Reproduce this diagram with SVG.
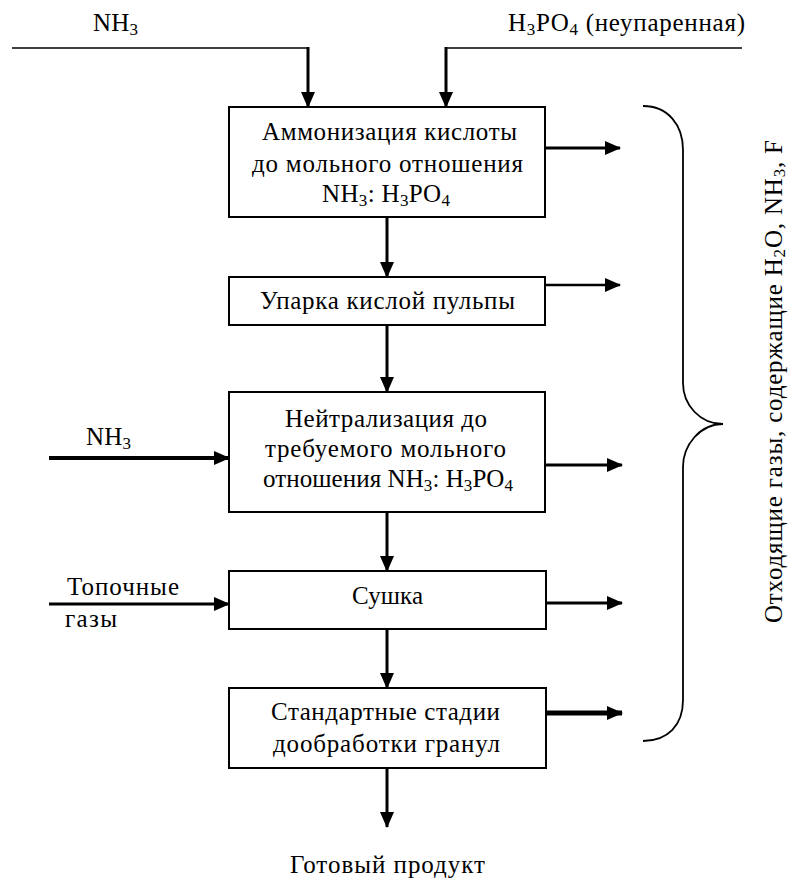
<svg xmlns="http://www.w3.org/2000/svg" width="788" height="880" viewBox="0 0 788 880">
<defs>
<style>
.box{fill:#fff;stroke:#000;stroke-width:2}
.t{font-family:"Liberation Serif","Times New Roman",serif;font-size:25px;fill:#000}
.c{text-anchor:middle}
.ln{fill:none;stroke:#000}
.sub{font-size:17px}
</style>
<marker id="ah" markerUnits="userSpaceOnUse" markerWidth="16" markerHeight="14" viewBox="0 0 16 14" refX="15" refY="7" orient="auto">
<path d="M0,0 L16,7 L0,14 Z" fill="#000"/>
</marker>
</defs>
<rect width="788" height="880" fill="#fff"/>

<g id="connectors">
<path class="ln" d="M12,48 H308" stroke-width="1.5"/>
<path class="ln" d="M308,47 V107" stroke-width="3" marker-end="url(#ah)"/>
<path class="ln" d="M446,48 H742" stroke-width="1.5"/>
<path class="ln" d="M446,47 V107" stroke-width="3" marker-end="url(#ah)"/>
<path class="ln" d="M545,148 H620" stroke-width="3" marker-end="url(#ah)"/>
<path class="ln" d="M387,217 V277" stroke-width="3" marker-end="url(#ah)"/>
<path class="ln" d="M545,285 H620" stroke-width="2.5" marker-end="url(#ah)"/>
<path class="ln" d="M387,325 V392" stroke-width="3" marker-end="url(#ah)"/>
<path class="ln" d="M49,458 H229" stroke-width="4" marker-end="url(#ah)"/>
<path class="ln" d="M546,465 H622" stroke-width="3" marker-end="url(#ah)"/>
<path class="ln" d="M387,512 V571" stroke-width="3" marker-end="url(#ah)"/>
<path class="ln" d="M49,604 H229" stroke-width="3" marker-end="url(#ah)"/>
<path class="ln" d="M546,603 H622" stroke-width="3" marker-end="url(#ah)"/>
<path class="ln" d="M387,629 V688" stroke-width="3" marker-end="url(#ah)"/>
<path class="ln" d="M546,713 H622" stroke-width="5" marker-end="url(#ah)"/>
<path class="ln" d="M387,768 V827" stroke-width="3" marker-end="url(#ah)"/>
</g>

<g id="brace">
<path class="ln" stroke-width="1.8" d="M643,106 C668,106 683,125 683,150 V383 C683,405 700,424 723,424 C700,424 683,445 683,467 V700 C683,725 668,741 643,741"/>
</g>

<g id="label-nh3-top"><text class="t" x="93" y="31" textLength="45">NH<tspan class="sub" dy="4">3</tspan></text></g>
<g id="label-h3po4"><text class="t" x="508" y="31" textLength="237">H<tspan class="sub" dy="4">3</tspan><tspan dy="-4">PO</tspan><tspan class="sub" dy="4">4</tspan><tspan dy="-4"> (неупаренная)</tspan></text></g>

<g id="node-ammon">
<rect class="box" x="229" y="107" width="316" height="110"/>
<text class="t" x="262" y="140" textLength="255">Аммонизация кислоты</text>
<text class="t" x="252" y="172" textLength="271">до мольного отношения</text>
<text class="t" x="322" y="202" textLength="128">NH<tspan class="sub" dy="4">3</tspan><tspan dy="-4">: H</tspan><tspan class="sub" dy="4">3</tspan><tspan dy="-4">PO</tspan><tspan class="sub" dy="4">4</tspan></text>
</g>

<g id="node-uparka">
<rect class="box" x="229" y="277" width="316" height="48"/>
<text class="t" x="260" y="309" textLength="255">Упарка кислой пульпы</text>
</g>

<g id="node-neutr">
<rect class="box" x="229" y="392" width="316" height="120"/>
<text class="t" x="285" y="427" textLength="202">Нейтрализация до</text>
<text class="t" x="265" y="457" textLength="241">требуемого мольного</text>
<text class="t" x="263" y="487" textLength="250">отношения NH<tspan class="sub" dy="4">3</tspan><tspan dy="-4">: H</tspan><tspan class="sub" dy="4">3</tspan><tspan dy="-4">PO</tspan><tspan class="sub" dy="4">4</tspan></text>
</g>
<g id="label-nh3-left"><text class="t" x="86" y="445" textLength="45">NH<tspan class="sub" dy="4">3</tspan></text></g>

<g id="node-sushka">
<rect class="box" x="229" y="571" width="317" height="58"/>
<text class="t" x="352" y="604" textLength="71">Сушка</text>
</g>
<g id="label-topoch">
<text class="t" x="67" y="595" textLength="112">Топочные</text>
<text class="t" x="65" y="627" textLength="52">газы</text>
</g>

<g id="node-standart">
<rect class="box" x="229" y="688" width="317" height="80"/>
<text class="t" x="271" y="720" textLength="229">Стандартные стадии</text>
<text class="t" x="273" y="752" textLength="227">дообработки гранул</text>
</g>

<g id="label-product"><text class="t" x="290" y="873" textLength="195">Готовый продукт</text></g>

<g id="label-gases">
<text class="t" transform="translate(782,623) rotate(-90)" x="0" y="0" textLength="483">Отходящие газы, содержащие H<tspan class="sub" dy="3">2</tspan><tspan dy="-3">O, NH</tspan><tspan class="sub" dy="3">3</tspan><tspan dy="-3">, F</tspan></text>
</g>
</svg>
